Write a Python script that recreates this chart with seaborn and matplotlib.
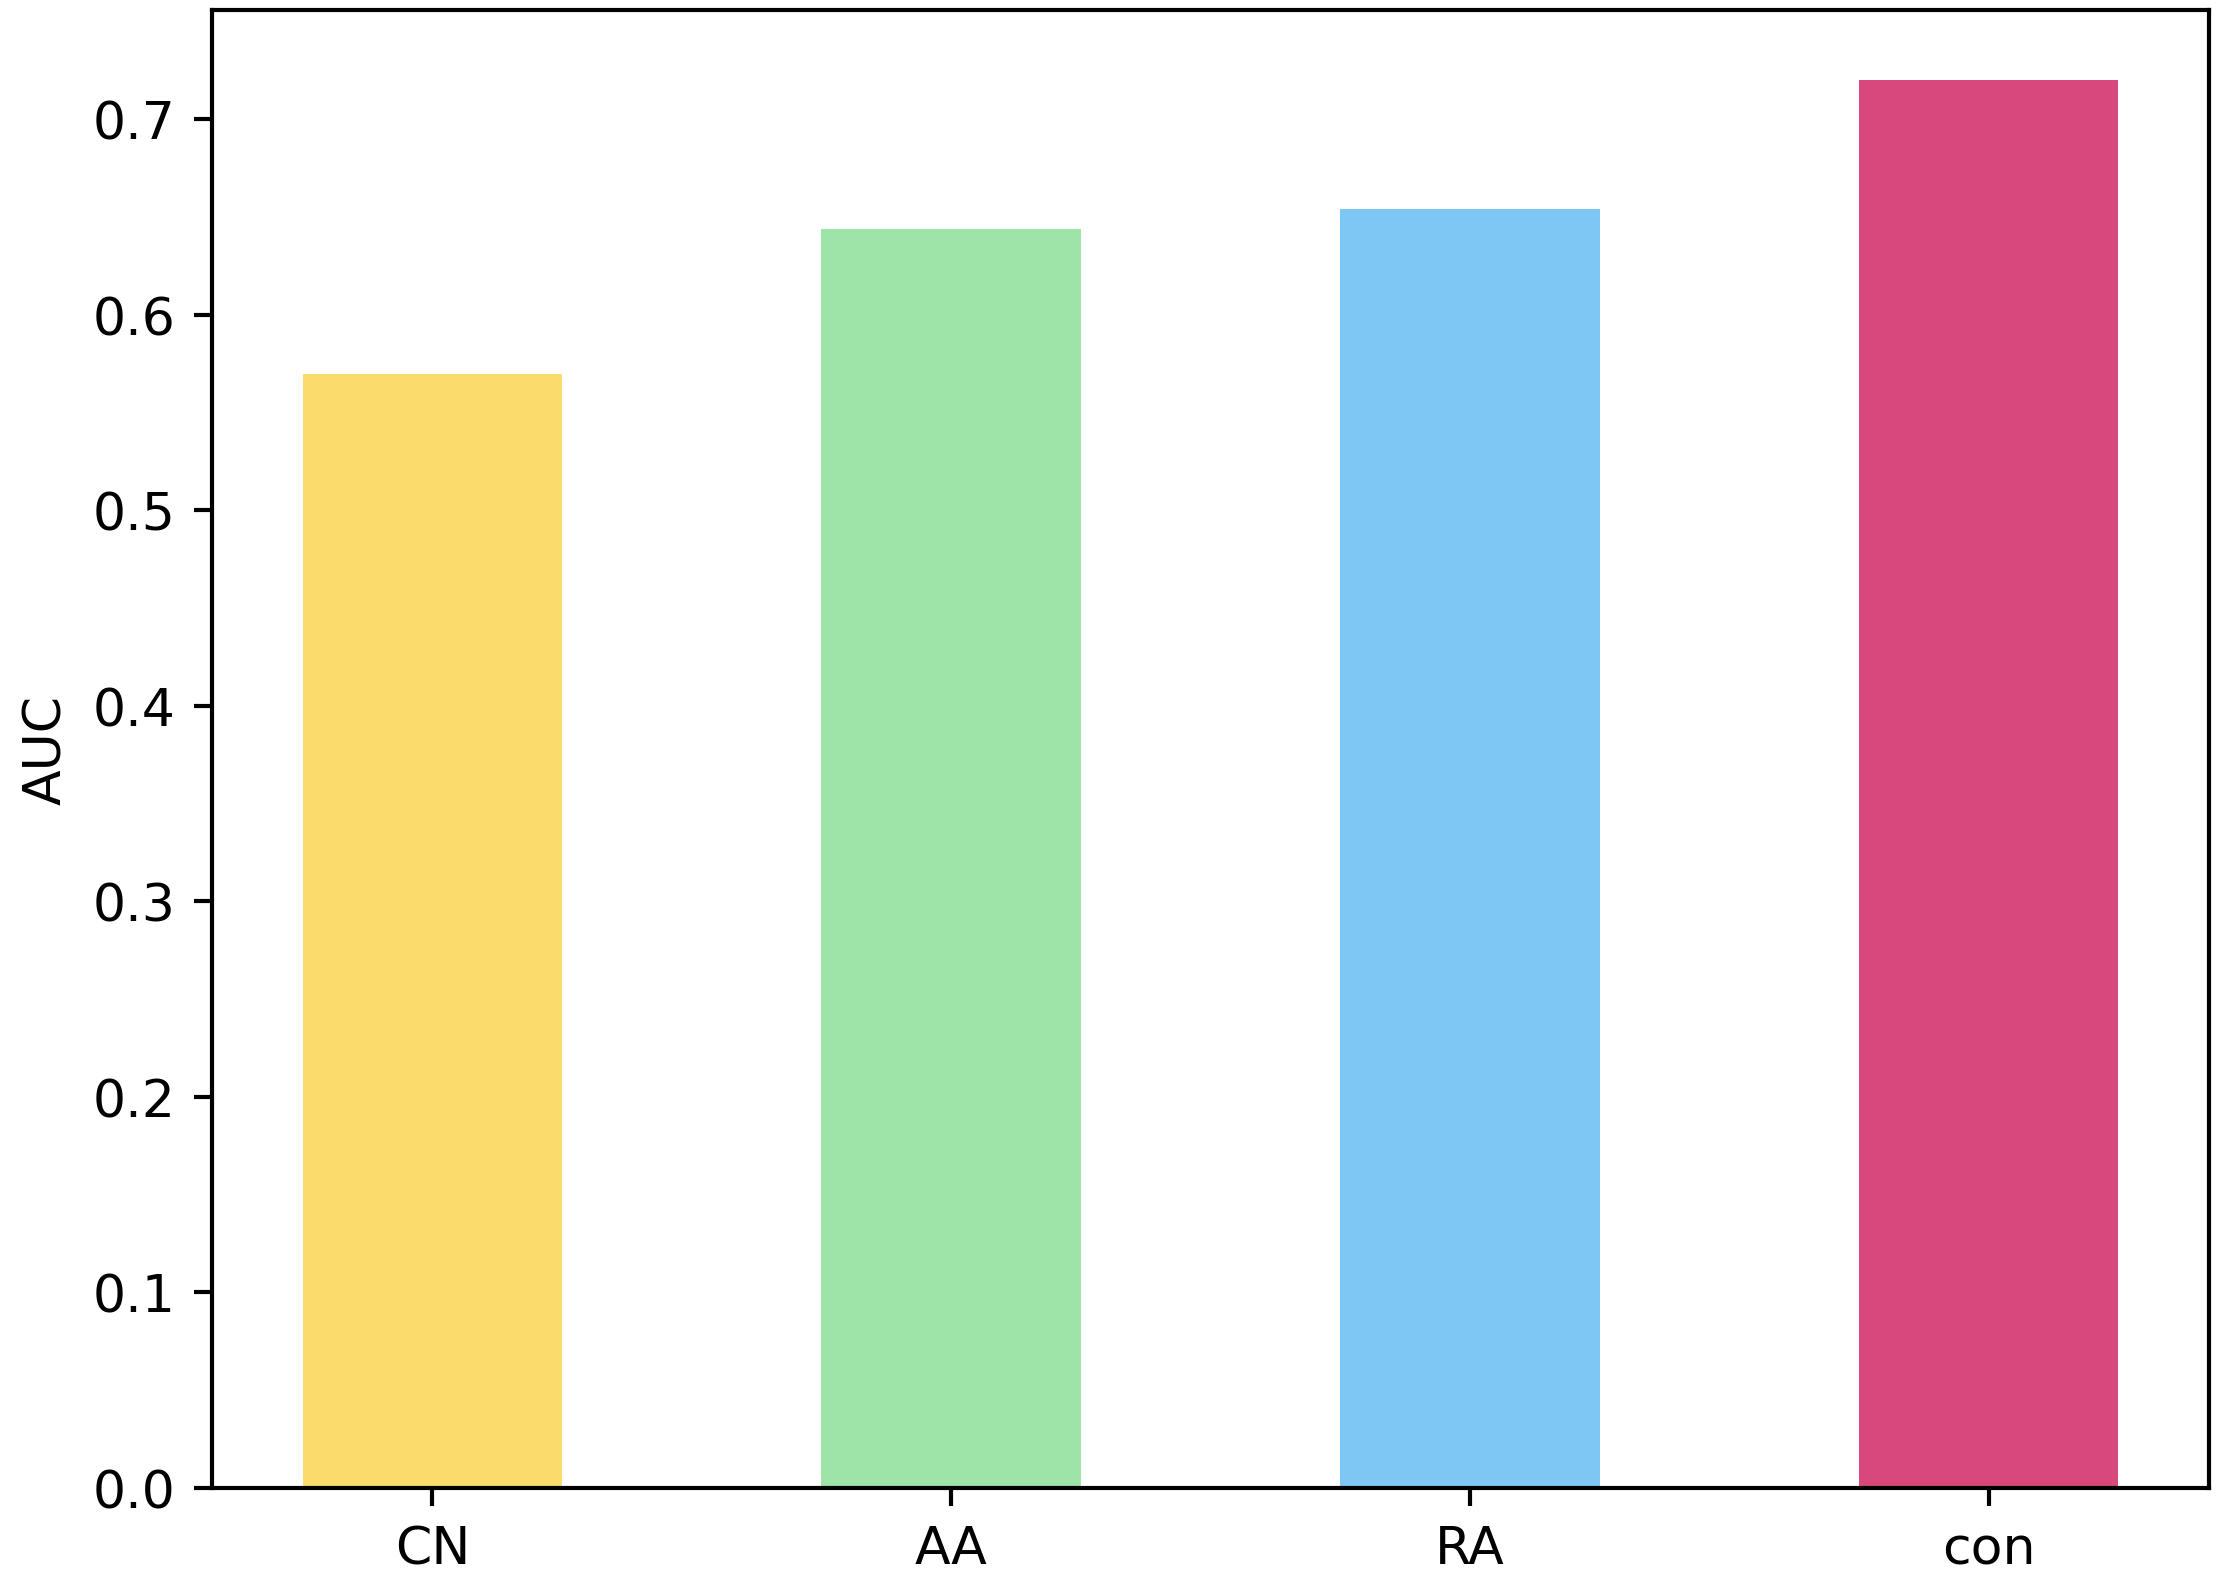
import matplotlib
matplotlib.use("Agg")

import matplotlib.pyplot as plt
import pandas as pd
import seaborn as sns

methods = ["CN", "AA", "RA", "con"]
auc = [0.570, 0.644, 0.654, 0.720]
colors = ["#FBDB6C", "#9EE3A8", "#7CC7F3", "#D9487D"]

df = pd.DataFrame({"method": methods, "auc": auc})

fig = plt.figure(figsize=(2217 / 375, 1580 / 375), dpi=375)
ax = fig.add_axes([212 / 2217, 1 - 1489 / 1580, (2209 - 212) / 2217, (1489 - 11) / 1580])

sns.barplot(data=df, x="method", y="auc", hue="method", palette=colors,
            width=0.5, saturation=1, legend=False, ax=ax)

ax.set_xlim(-0.425, 3.425)
ax.set_ylim(0, 0.756)
ax.set_xlabel("")
ax.set_ylabel("AUC")
for s in ax.spines.values():
    s.set_visible(True)

fig.savefig("out.png", dpi=375)
